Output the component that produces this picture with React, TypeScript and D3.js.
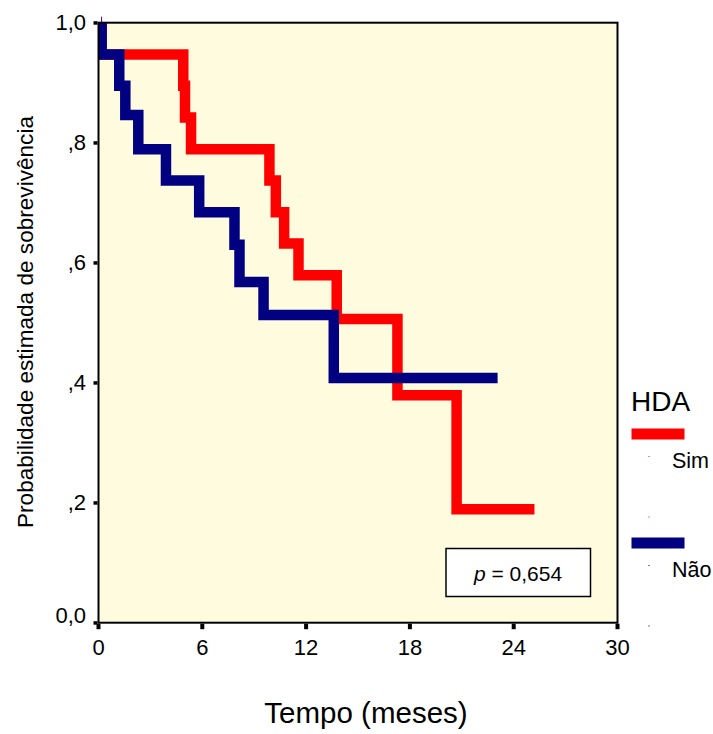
import React from "react";
import * as d3 from "d3";

// Kaplan-Meier steps
const simTimes = [0, 0.18, 4.9, 5.0, 5.35, 9.88, 10.25, 10.73, 11.56, 13.77, 17.28, 20.7, 25.2];
const simSurv = [1, 0.947, 0.895, 0.842, 0.789, 0.737, 0.684, 0.632, 0.579, 0.506, 0.379, 0.189, 0.189];

const naoTimes = [0, 0.18, 1.2, 1.55, 2.3, 3.9, 5.82, 7.86, 8.15, 9.54, 13.6, 23.07];
const naoSurv = [1, 0.947, 0.895, 0.846, 0.789, 0.737, 0.684, 0.63, 0.568, 0.513, 0.408, 0.408];

const xTicks = [0, 6, 12, 18, 24, 30];
const yTicks = [0, 0.2, 0.4, 0.6, 0.8, 1.0];
const yTickLabels = ["0,0", ",2", ",4", ",6", ",8", "1,0"];

const legendTitle = "HDA";
const seriesNames = ["Sim", "Não"];
const seriesColors = ["#FF0000", "#000080"];
const pText = "= 0,654";

const FONT = "'Liberation Sans', Arial, Helvetica, sans-serif";

export default function App() {
  const W = 713;
  const H = 734;
  const x = d3.scaleLinear().domain([0, 30]).range([98.5, 617.5]);
  const y = d3.scaleLinear().domain([0, 1]).range([622.7, 22.7]);

  const line = d3
    .line<[number, number]>()
    .x((d) => x(d[0]))
    .y((d) => y(d[1]))
    .curve(d3.curveStepAfter);

  const simPts: [number, number][] = simTimes.map((t, i) => [t, simSurv[i]]);
  const naoPts: [number, number][] = naoTimes.map((t, i) => [t, naoSurv[i]]);

  const px0 = x(0);
  const px1 = x(30);
  const py0 = y(1);
  const py1 = y(0);

  return (
    <svg
      width={W}
      height={H}
      style={{ position: "absolute", left: 0, top: 0, background: "#fff" }}
      fontFamily={FONT}
    >
      <defs>
        <clipPath id="plotClip">
          <rect x={px0} y={py0} width={px1 - px0} height={py1 - py0} />
        </clipPath>
      </defs>
      <rect x={0} y={0} width={W} height={H} fill="#fff" />
      {/* plot background */}
      <rect x={px0} y={py0} width={px1 - px0} height={py1 - py0} fill="#FFFBDF" />

      {/* curves */}
      <g clipPath="url(#plotClip)">
        <path d={line(simPts) || ""} fill="none" stroke={seriesColors[0]} strokeWidth={10.5} strokeLinejoin="miter" />
        <path d={line(naoPts) || ""} fill="none" stroke={seriesColors[1]} strokeWidth={10.5} strokeLinejoin="miter" />
      </g>
      {/* censor-like mark at top */}
      <line x1={x(naoTimes[1])} x2={x(naoTimes[1])} y1={py0 - 6} y2={py0} stroke="#4B0082" strokeWidth={1} />

      {/* frame */}
      <rect x={px0} y={py0} width={px1 - px0} height={py1 - py0} fill="none" stroke="#000" strokeWidth={2} />

      {/* y ticks */}
      {yTicks.map((v, i) => (
        <g key={"y" + i}>
          <rect x={px0 - 5} y={y(v) - 1.5} width={4} height={3.5} fill="#000" />
          <text
            x={86}
            y={v === 0 ? y(v) - 7 : y(v)}
            dy="0.35em"
            textAnchor="end"
            fontSize={22}
            fill="#000"
          >
            {yTickLabels[i]}
          </text>
        </g>
      ))}

      {/* x ticks */}
      {xTicks.map((v, i) => (
        <g key={"x" + i}>
          <rect x={x(v) - 2} y={py1 + 1} width={4} height={5.5} fill="#000" />
          <text x={x(v)} y={655} textAnchor="middle" fontSize={22} fill="#000">
            {v}
          </text>
        </g>
      ))}

      {/* axis titles */}
      <text x={366} y={723} textAnchor="middle" fontSize={29.5} fill="#000">
        Tempo (meses)
      </text>
      <text
        transform={`translate(33, 322) rotate(-90)`}
        textAnchor="middle"
        fontSize={22.6}
        fill="#000"
      >
        Probabilidade estimada de sobrevivência
      </text>

      {/* p-value box */}
      <rect x={446} y={548.5} width={144.5} height={48} fill="#fff" stroke="#000" strokeWidth={1.5} />
      <text x={518} y={581} textAnchor="middle" fontSize={21} fill="#000">
        <tspan fontStyle="italic">p</tspan>
        <tspan> {pText}</tspan>
      </text>

      {/* legend */}
      <text x={631} y={411} fontSize={28} fill="#000">
        {legendTitle}
      </text>
      {seriesNames.map((name, i) => {
        const top = 428.5 + i * 109;
        return (
          <g key={name}>
            <rect x={631.5} y={top} width={53} height={11} fill={seriesColors[i]} />
            <text x={672} y={top + 39.5} fontSize={21.5} fill="#000">
              {name}
            </text>
            <rect x={648.5} y={top + 27.5} width={1} height={1} fill={i === 0 ? "#FF0000" : "#000"} />
            <rect x={648.5} y={top + 88} width={1} height={1} fill={i === 0 ? "#FF0000" : "#000"} />
          </g>
        );
      })}
    </svg>
  );
}
